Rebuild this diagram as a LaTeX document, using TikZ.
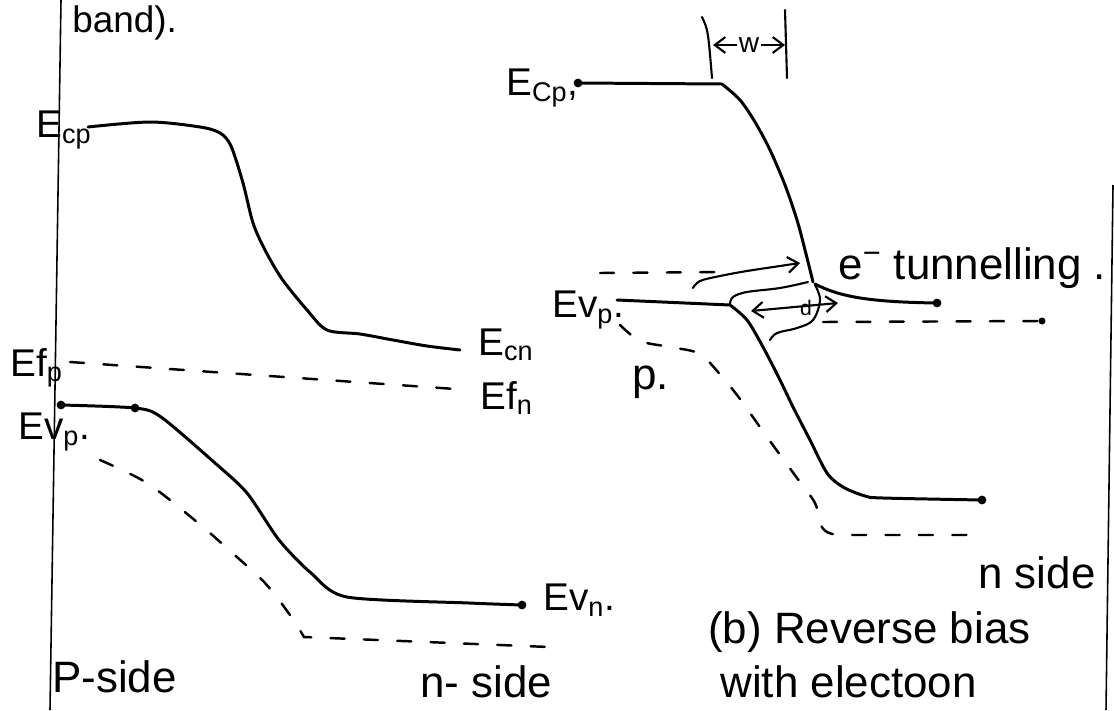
\documentclass[tikz,border=0pt]{standalone}
\usepackage{fontspec}
\setmainfont{Liberation Sans}
\usetikzlibrary{arrows.meta}
\begin{document}
\begin{tikzpicture}[x=0.02cm,y=-0.02cm,
  band/.style={line width=1.7pt,line cap=round,line join=round},
  dband/.style={line width=1.4pt,line cap=round,dash pattern=on 8pt off 11pt},
  rule/.style={line width=0.9pt},
  pen/.style={line width=1.2pt,line cap=round,line join=round},
  barb/.style={-{Straight Barb[length=6pt,width=9pt]}},
  lbl/.style={inner sep=0pt,anchor=west,font=\fontsize{22}{24}\selectfont},
  txt/.style={inner sep=0pt,anchor=west,font=\fontsize{25}{28}\selectfont},
  bdot/.style={circle,fill,inner sep=0pt,minimum size=5pt}]

\useasboundingbox (0,0) rectangle (1114,710);

% margin rules
\coordinate (L1) at (61,0);   \coordinate (L2) at (50,710);
\coordinate (R1) at (1113,185); \coordinate (R2) at (1106,710);
\draw[rule] (L1) -- (L2);
\draw[rule] (R1) -- (R2);

% ---------- texts ----------
\node[txt,anchor=base west,font=\fontsize{21}{24}\selectfont] (band) at (72,32) {band).};
\node[lbl] (ecpL) at (36,130) {E\textsubscript{cp}};
\node[lbl] (ecn) at (478,345) {E\textsubscript{cn}};
\node[lbl] (efp) at (10,368) {Ef\textsubscript{p}};
\node[lbl] (efn) at (480,398) {Ef\textsubscript{n}};
\node[lbl] (evpL) at (18,432) {Ev\textsubscript{p}.};
\node[lbl] (evn) at (543,600) {Ev\textsubscript{n}.};
\node[txt,anchor=base west] (pside) at (52,692) {P-side};
\node[txt,anchor=base west] (nside) at (420,697) {n- side};
\node[txt,anchor=base west] (with) at (720,697) {with electoon};
\node[txt] (rb) at (708,632) {(b) Reverse bias};
\node[txt] (nside2) at (978,573) {n side};
\node[lbl] (ecpR) at (506,88) {E\textsubscript{Cp},};
\node[lbl] (evpR) at (552,310) {Ev\textsubscript{p}.};
\node[txt] (tun) at (838,268) {e\textsuperscript{−} tunnelling .};
\node[txt] (p) at (632,382) {p.};

% ---------- left diagram ----------
\draw[band] plot[smooth,tension=0.5] coordinates {(88,127) (150,122) (200,127) (220,133) (231,146) (243,183) (253,223) (265,250) (282,279) (307,310) (327,330) (360,334) (393,340) (427,346) (460,350)};
\draw[dband] (70,362) -- (455,389);
\draw[band] plot[smooth,tension=0.45] coordinates {(61,405) (135,408) (161,417) (215,463) (247,493) (279,540) (311,573) (347,597) (469,603) (522,605)};
\node[bdot] (d1) at (61,405) {};
\node[bdot] (d2) at (135,408) {};
\node[bdot] (d3) at (522,605) {};
\draw[dband] plot[smooth,tension=0.5] coordinates {(100,460) (147,483) (197,522) (229,550) (265,583) (290,615) (304,637)} -- (549,647);

% ---------- right diagram ----------
\draw[band] (578,83) -- (722,84) plot[smooth,tension=0.5] coordinates {(722,84) (740,100) (755,122) (770,150) (785,185) (797,220) (805,250) (813,282)};
\node[bdot] (d4) at (578,83) {};
\coordinate (J) at (815,284);
\draw[band] (J) .. controls (840,297) and (870,302) .. (937,303);
\node[bdot] (d5) at (937,303) {};
\draw[band] (617,300) -- (730,305) plot[smooth,tension=0.5] coordinates {(730,305) (747,320) (763,347) (780,380) (793,407) (810,440) (827,473) (843,487) (865,496) (883,498) (982,500)};
\node[bdot] (d6) at (982,500) {};

\draw[dband] (600,273) -- (730,272);
\draw[dband] (823,322) -- (1040,321);
\node[bdot,minimum size=4pt] (d7) at (1042,321) {};
\draw[dband] plot[smooth,tension=0.5] coordinates {(620,325) (640,341) (670,347) (700,354) (723,378) (740,399) (767,437) (797,478) (815,503) (820,523)} .. controls (823,532) and (830,535) .. (843,535) -- (983,535);

% tunnelling arrows at junction
\draw[pen,barb] plot[smooth,tension=0.6] coordinates {(693,288) (700,281) (720,276) (747,271) (780,266) (800,263)};
\draw[pen] plot[smooth,tension=0.6] coordinates {(730,304) (733,297) (747,292) (780,288) (808,282)};
\draw[pen,{Straight Barb[length=6pt,width=9pt]}-{Straight Barb[length=6pt,width=9pt]}] (751,311) -- (838,303);
\node[inner sep=0pt,font=\fontsize{12}{12}\selectfont] (dl) at (806,308) {d};
\draw[pen] plot[smooth,tension=0.6] coordinates {(770,340) (777,333) (797,328) (813,320) (820,300) (815,285)};

% width w
\draw[pen] (702,17) .. controls (708,30) .. (712,78);
\draw[pen] (785,10) -- (787,78);
\coordinate (wl) at (713,45); \coordinate (wr) at (785,45);
\draw[pen,{Straight Barb[length=6pt,width=9pt]}-{Straight Barb[length=6pt,width=9pt]}] (wl) -- node[fill=white,inner sep=1pt,font=\fontsize{16}{16}\selectfont] (w) {w} (wr);
\end{tikzpicture}
\end{document}
